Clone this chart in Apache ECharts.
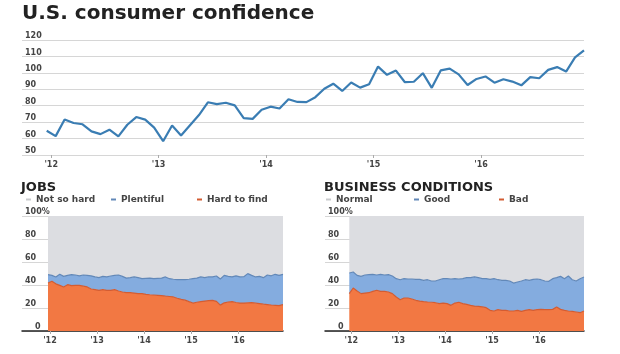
<!DOCTYPE html>
<html>
<head>
<meta charset="utf-8">
<script src="https://cdn.jsdelivr.net/npm/echarts@6/dist/echarts.min.js"></script>
<style>
  html, body { margin: 0; padding: 0; background: #fff; }
  #chart { width: 620px; height: 354px; }
</style>
</head>
<body>
<div id="chart"></div>
<script>
// monthly readings, Dec 2011 .. Dec 2016
const months = [
  '2011-12',
  '2012-01', '2012-02', '2012-03', '2012-04', '2012-05', '2012-06', '2012-07', '2012-08', '2012-09', '2012-10', '2012-11', '2012-12',
  '2013-01', '2013-02', '2013-03', '2013-04', '2013-05', '2013-06', '2013-07', '2013-08', '2013-09', '2013-10', '2013-11', '2013-12',
  '2014-01', '2014-02', '2014-03', '2014-04', '2014-05', '2014-06', '2014-07', '2014-08', '2014-09', '2014-10', '2014-11', '2014-12',
  '2015-01', '2015-02', '2015-03', '2015-04', '2015-05', '2015-06', '2015-07', '2015-08', '2015-09', '2015-10', '2015-11', '2015-12',
  '2016-01', '2016-02', '2016-03', '2016-04', '2016-05', '2016-06', '2016-07', '2016-08', '2016-09', '2016-10', '2016-11', '2016-12'
]
const tickMonths = ['2012-01', '2013-01', '2014-01', '2015-01', '2016-01']
const tickLabels = ["'12", "'13", "'14", "'15", "'16"]

const confidence = [64.8, 61.5, 71.6, 69.5, 68.7, 64.4, 62.7, 65.4, 61.3, 68.4, 73.1, 71.5, 66.7, 58.4, 68.0, 61.9, 68.1, 74.3, 82.1, 81.0,
  81.8, 80.2, 72.4, 72.0, 77.5, 79.4, 78.3, 83.9, 82.3, 82.2, 85.2, 90.3, 93.4, 89.0, 94.1, 91.0, 93.1, 103.8, 98.8, 101.4,
  94.3, 94.6, 99.8, 90.9, 101.5, 102.6, 99.1, 92.6, 96.3, 97.8, 94.0, 96.1, 94.7, 92.4, 97.4, 96.7, 101.8, 103.5, 100.8, 109.4, 113.7]

// JOBS (%)
const hardToFind = [41.7, 43.2, 41.0, 39.7, 38.3, 40.3, 39.4, 39.7, 39.7, 39.0, 38.3, 36.5, 36.0, 35.4, 36.0, 35.4, 35.4, 36.0, 34.8, 33.9,
  33.3, 33.3, 33.0, 32.5, 32.5, 31.9, 31.5, 31.3, 31.0, 30.7, 30.3, 30.0, 29.6, 28.5, 27.5, 26.8, 25.5, 24.3, 25.0, 25.6,
  26.0, 26.4, 26.7, 25.8, 22.5, 24.5, 25.2, 25.5, 24.8, 24.3, 24.3, 24.5, 24.6, 24.2, 23.8, 23.3, 23.0, 22.6, 22.3, 22.0, 22.9]
const plentiful = [7.3, 5.2, 6.0, 9.6, 9.2, 8.1, 9.6, 9.0, 8.3, 9.7, 10.1, 11.5, 11.0, 11.0, 11.5, 11.6, 12.4, 12.4, 13.9, 13.6,
  12.7, 13.1, 14.0, 13.9, 13.0, 13.9, 14.5, 14.2, 14.8, 15.3, 16.7, 15.5, 15.4, 16.1, 17.1, 17.8, 19.5, 21.2, 21.0, 21.4,
  20.4, 20.6, 20.3, 22.0, 22.7, 23.9, 22.3, 21.5, 23.2, 22.7, 22.9, 25.4, 23.8, 22.8, 23.7, 23.1, 25.7, 25.4, 27.0, 26.4, 26.4]
const notSoHard = [51.0, 51.6, 53.0, 50.7, 52.5, 51.6, 51.0, 51.3, 52.0, 51.3, 51.6, 52.0, 53.0, 53.6, 52.5, 53.0, 52.2, 51.6, 51.3, 52.5,
  54.0, 53.6, 53.0, 53.6, 54.5, 54.2, 54.0, 54.5, 54.2, 54.0, 53.0, 54.5, 55.0, 55.4, 55.4, 55.4, 55.0, 54.5, 54.0, 53.0,
  53.6, 53.0, 53.0, 52.2, 54.8, 51.6, 52.5, 53.0, 52.0, 53.0, 52.8, 50.1, 51.6, 53.0, 52.5, 53.6, 51.3, 52.0, 50.7, 51.6, 50.7]

// BUSINESS CONDITIONS (%)
const bad = [32.5, 37.4, 34.8, 32.5, 33.0, 33.3, 34.5, 35.4, 34.5, 34.5, 33.9, 32.5, 29.6, 27.2, 28.7, 28.7, 27.8, 26.7, 26.0, 25.5,
  25.2, 25.0, 24.6, 23.8, 24.3, 23.8, 22.3, 24.3, 25.0, 23.8, 23.2, 22.3, 21.7, 21.4, 20.9, 20.3, 18.0, 17.4, 18.6, 18.0,
  18.0, 17.4, 17.4, 18.0, 17.1, 18.0, 18.6, 18.0, 18.6, 18.8, 18.6, 18.6, 18.8, 20.9, 18.8, 18.0, 17.4, 17.1, 16.5, 15.9, 17.4]
const good = [17.9, 13.9, 13.6, 15.0, 15.7, 15.7, 14.8, 13.3, 14.8, 14.2, 15.1, 15.3, 15.9, 17.4, 16.8, 16.5, 17.4, 18.2, 18.9, 18.5,
  19.4, 18.5, 18.9, 20.8, 21.2, 21.7, 22.9, 21.2, 20.2, 21.7, 23.2, 24.1, 25.3, 25.0, 24.6, 25.2, 26.9, 28.1, 26.0, 26.0,
  26.0, 26.1, 24.3, 24.6, 26.4, 26.6, 25.4, 26.9, 26.6, 25.8, 24.9, 24.6, 26.7, 25.5, 28.7, 27.5, 30.4, 27.5, 27.0, 29.6, 29.6]
const normal = [49.6, 48.7, 51.6, 52.5, 51.3, 51.0, 50.7, 51.3, 50.7, 51.3, 51.0, 52.2, 54.5, 55.4, 54.5, 54.8, 54.8, 55.1, 55.1, 56.0,
  55.4, 56.5, 56.5, 55.4, 54.5, 54.5, 54.8, 54.5, 54.8, 54.5, 53.6, 53.6, 53.0, 53.6, 54.5, 54.5, 55.1, 54.5, 55.4, 56.0,
  56.0, 56.5, 58.3, 57.4, 56.5, 55.4, 56.0, 55.1, 54.8, 55.4, 56.5, 56.8, 54.5, 53.6, 52.5, 54.5, 52.2, 55.4, 56.5, 54.5, 53.0]

const FONT = 'DejaVu Sans'
const TEXT = '#444'
const GRID_LINE = '#d6d6d6'

// x is the month index; year ticks fall between the Dec and Jan readings
const tickPos = tickMonths.map(m => months.indexOf(m) - 0.5)

function xAxisFor (gridIndex, min, isPanel) {
  return {
    type: 'value',
    gridIndex: gridIndex,
    min: min,
    max: months.length - 1,
    splitLine: { show: false },
    axisLine: { show: isPanel, onZero: false, lineStyle: { color: '#222', width: 1.5 } },
    axisTick: { show: true, customValues: tickPos, length: 3, lineStyle: { color: '#aaa' } },
    axisLabel: {
      customValues: tickPos,
      margin: 6,
      fontFamily: FONT,
      fontSize: 8,
      fontWeight: 'bold',
      color: TEXT,
      formatter: v => tickLabels[tickPos.indexOf(v)] || ''
    }
  }
}

function yAxisFor (gridIndex, min, max, interval, formatter) {
  return {
    type: 'value',
    gridIndex: gridIndex,
    min: min,
    max: max,
    interval: interval,
    axisLine: { show: false },
    axisTick: { show: false },
    splitLine: { lineStyle: { color: GRID_LINE, width: 1 } },
    axisLabel: {
      inside: true,
      margin: 3,
      align: 'left',
      verticalAlign: 'bottom',
      fontFamily: FONT,
      fontSize: 8,
      fontWeight: 'bold',
      color: TEXT,
      formatter: formatter,
      rich: {
        z: { padding: [0, 0, 0, 10], fontFamily: FONT, fontSize: 8, fontWeight: 'bold', color: TEXT }
      }
    }
  }
}

const pctLabel = v => v === 100 ? '100%' : (v === 0 ? '{z|0}' : String(v))

function legendItem (name, left) {
  return {
    data: [name],
    left: left,
    top: 195,
    padding: 0,
    icon: 'rect',
    itemWidth: 5,
    itemHeight: 2,
    selectedMode: false,
    textStyle: { fontFamily: FONT, fontSize: 9, fontWeight: 'bold', color: TEXT }
  }
}

// share value goes in column 0 so the stack runs on y, month index in column 1
function areaSeries (name, data, stack, axis, fill, line, lineWidth) {
  return {
    name: name,
    type: 'line',
    stack: stack,
    xAxisIndex: axis,
    yAxisIndex: axis,
    data: data.map((v, i) => [v, i]),
    encode: { x: 1, y: 0 },
    symbol: 'none',
    lineStyle: { color: line, width: lineWidth },
    areaStyle: { color: fill, opacity: 1 },
    itemStyle: { color: line },
    z: 2
  }
}

const chart = echarts.init(document.getElementById('chart'), null, { renderer: 'canvas' })

const titleStyle = (size) => ({ fontFamily: FONT, fontSize: size, fontWeight: 'bold', color: '#222' })

const option = {
  animation: false,
  title: [
    { text: 'U.S. consumer confidence', left: 22, top: 4, padding: 0, textStyle: titleStyle(20) },
    { text: 'JOBS', left: 21, top: 181, padding: 0, textStyle: titleStyle(13) },
    { text: 'BUSINESS CONDITIONS', left: 324, top: 181, padding: 0, textStyle: titleStyle(13) }
  ],
  legend: [
    legendItem('Not so hard', 26),
    legendItem('Plentiful', 111),
    legendItem('Hard to find', 197),
    legendItem('Normal', 326),
    legendItem('Good', 414),
    legendItem('Bad', 499)
  ],
  grid: [
    { left: 22, right: 36, top: 40, bottom: 199 },
    { left: 22, right: 337, top: 216, bottom: 23 },
    { left: 325, right: 36, top: 216, bottom: 23 }
  ],
  xAxis: [
    xAxisFor(0, -2.76, false),
    xAxisFor(1, -6.64, true),
    xAxisFor(2, -6.21, true)
  ],
  yAxis: [
    yAxisFor(0, 50, 120, 10, v => String(v)),
    yAxisFor(1, 0, 100, 20, pctLabel),
    yAxisFor(2, 0, 100, 20, pctLabel)
  ],
  series: [
    {
      name: 'Consumer confidence',
      type: 'line',
      xAxisIndex: 0,
      yAxisIndex: 0,
      data: confidence.map((v, i) => [i, v]),
      symbol: 'none',
      lineStyle: { color: '#3a7db3', width: 2.2 },
      itemStyle: { color: '#3a7db3' }
    },
    areaSeries('Hard to find', hardToFind, 'jobs', 1, '#f27843', '#d35c32', 1.2),
    areaSeries('Plentiful', plentiful, 'jobs', 1, '#84acdf', '#6288b8', 1.2),
    areaSeries('Not so hard', notSoHard, 'jobs', 1, '#dcdde1', '#c9cacd', 0),
    areaSeries('Bad', bad, 'biz', 2, '#f27843', '#d35c32', 1.2),
    areaSeries('Good', good, 'biz', 2, '#84acdf', '#6288b8', 1.2),
    areaSeries('Normal', normal, 'biz', 2, '#dcdde1', '#c9cacd', 0)
  ]
}

chart.setOption(option)
</script>
</body>
</html>
